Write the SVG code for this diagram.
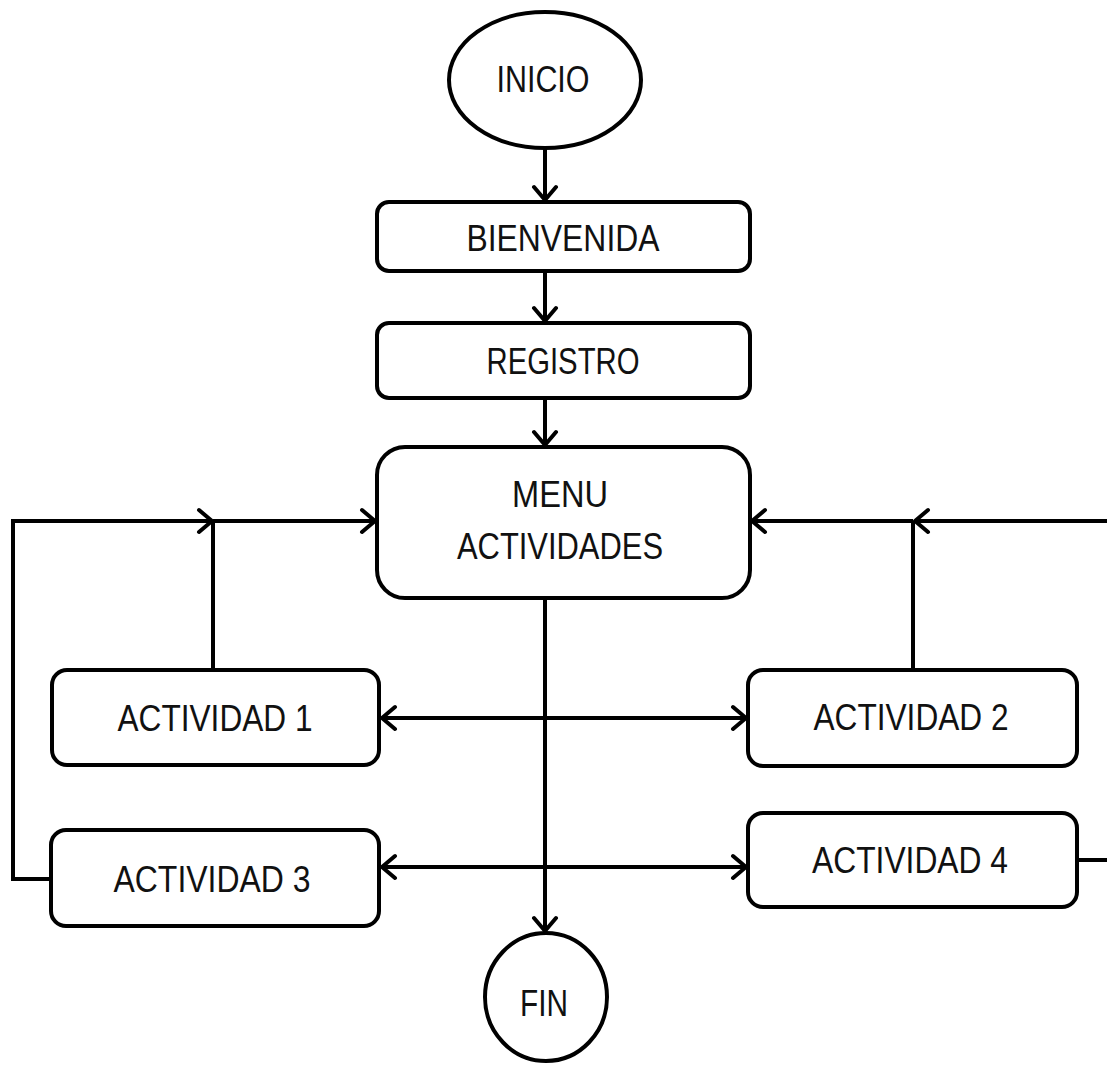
<svg xmlns="http://www.w3.org/2000/svg" width="1107" height="1067" viewBox="0 0 1107 1067">
<style>
.shape{fill:#fff;stroke:#000;stroke-width:4}
.lbl{font-family:"Liberation Sans",Arial,sans-serif;font-size:36px;fill:#111;text-anchor:middle}
.con{fill:none;stroke:#000;stroke-width:4}
.arr{marker-end:url(#ah)}
.dbl{marker-end:url(#ah);marker-start:url(#ahs)}
</style>
<defs>
<marker id="ah" markerUnits="userSpaceOnUse" viewBox="-18 -14 20 28" refX="0" refY="0" markerWidth="20" markerHeight="28" orient="auto">
<path d="M-13,-11 L0,0 L-13,11" fill="none" stroke="#000" stroke-width="4" stroke-linecap="round" stroke-linejoin="round"/>
</marker>
<marker id="ahs" markerUnits="userSpaceOnUse" viewBox="-18 -14 20 28" refX="0" refY="0" markerWidth="20" markerHeight="28" orient="auto-start-reverse">
<path d="M-13,-11 L0,0 L-13,11" fill="none" stroke="#000" stroke-width="4" stroke-linecap="round" stroke-linejoin="round"/>
</marker>
</defs>
<rect width="1107" height="1067" fill="#fff"/>
<g id="connectors">
<line class="con arr" x1="545" y1="148" x2="545" y2="200"/>
<line class="con arr" x1="545" y1="271" x2="545" y2="321"/>
<line class="con arr" x1="545" y1="398" x2="545" y2="445"/>
<line class="con arr" x1="545" y1="598" x2="545" y2="931"/>
<polyline class="con arr" points="52,879 13,879 13,521 212,521"/>
<line class="con arr" x1="213" y1="521" x2="375" y2="521"/>
<line class="con" x1="213" y1="670" x2="213" y2="521"/>
<line class="con arr" x1="1107" y1="521" x2="915" y2="521"/>
<line class="con arr" x1="913" y1="521" x2="752" y2="521"/>
<line class="con" x1="913" y1="670" x2="913" y2="521"/>
<line class="con" x1="1077" y1="860" x2="1107" y2="860"/>
<line class="con dbl" x1="382" y1="718" x2="746" y2="718"/>
<line class="con dbl" x1="382" y1="867" x2="746" y2="867"/>
</g>
<g id="inicio">
<ellipse class="shape" cx="545" cy="80" rx="96" ry="68"/>
<text class="lbl" x="543" y="92" textLength="93" lengthAdjust="spacingAndGlyphs">INICIO</text>
</g>
<g id="bienvenida">
<rect class="shape" x="377" y="202" width="373" height="69" rx="12"/>
<text class="lbl" x="563" y="251" textLength="193" lengthAdjust="spacingAndGlyphs">BIENVENIDA</text>
</g>
<g id="registro">
<rect class="shape" x="377" y="323" width="373" height="75" rx="12"/>
<text class="lbl" x="563" y="374" textLength="153" lengthAdjust="spacingAndGlyphs">REGISTRO</text>
</g>
<g id="menu">
<rect class="shape" x="377" y="447" width="373" height="151" rx="28"/>
<text class="lbl" x="560" y="507" textLength="96" lengthAdjust="spacingAndGlyphs">MENU</text>
<text class="lbl" x="560" y="559" textLength="206" lengthAdjust="spacingAndGlyphs">ACTIVIDADES</text>
</g>
<g id="actividad1">
<rect class="shape" x="52" y="670" width="327" height="95" rx="15"/>
<text class="lbl" x="215" y="731" textLength="195" lengthAdjust="spacingAndGlyphs">ACTIVIDAD 1</text>
</g>
<g id="actividad2">
<rect class="shape" x="748" y="670" width="329" height="96" rx="15"/>
<text class="lbl" x="911" y="730" textLength="195" lengthAdjust="spacingAndGlyphs">ACTIVIDAD 2</text>
</g>
<g id="actividad3">
<rect class="shape" x="51" y="830" width="328" height="96" rx="15"/>
<text class="lbl" x="212" y="892" textLength="197" lengthAdjust="spacingAndGlyphs">ACTIVIDAD 3</text>
</g>
<g id="actividad4">
<rect class="shape" x="748" y="813" width="329" height="94" rx="15"/>
<text class="lbl" x="910" y="873" textLength="196" lengthAdjust="spacingAndGlyphs">ACTIVIDAD 4</text>
</g>
<g id="fin">
<ellipse class="shape" cx="546" cy="997" rx="61" ry="64"/>
<text class="lbl" x="544" y="1016" textLength="48" lengthAdjust="spacingAndGlyphs">FIN</text>
</g>
</svg>
